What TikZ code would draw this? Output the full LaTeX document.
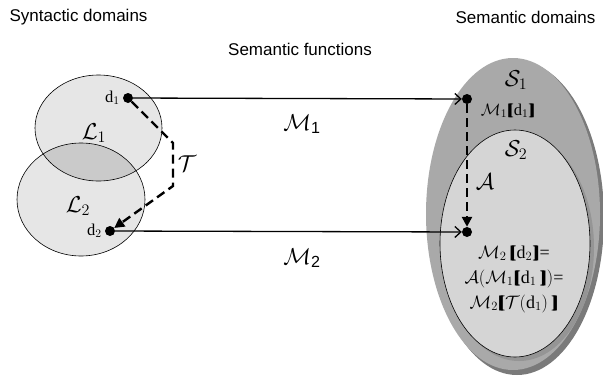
\RequirePackage{fix-cm}
\documentclass[tikz,border=0pt]{standalone}
\usepackage{amsmath,amssymb}
\usepackage{fontspec}
\setmainfont{Liberation Serif}
\setsansfont{Liberation Sans}
\usetikzlibrary{positioning,calc,arrows.meta}
\definecolor{synfill}{HTML}{E6E6E6}
\definecolor{synover}{HTML}{CACACA}
\definecolor{semouter}{HTML}{A9A9A9}
\definecolor{seminner}{HTML}{D5D5D5}
\definecolor{semshadow}{HTML}{7A7A7A}
\newcommand{\dsub}[1]{\text{d}_{#1}}
\newcommand{\lbr}{\mathopen{\text{\bfseries[\kern-0.26em[}}}
\newcommand{\rbr}{\mathclose{\text{\bfseries]\kern-0.26em]}}}
\newcommand{\sembr}[1]{\lbr #1\rbr}
\newcommand{\sfone}{\text{\sffamily 1}}
\newcommand{\sftwo}{\text{\sffamily 2}}

\tikzset{
  dot/.style={circle,fill=black,inner sep=0pt,minimum size=10pt},
  maparrow/.style={line width=1.3pt,-{Straight Barb[length=6pt,width=11pt]}},
  transarrow/.style={line width=2.4pt,dash pattern=on 9pt off 5pt,
    -{Triangle[length=10pt,width=10pt]}},
  headlbl/.style={font=\sffamily\fontsize{17}{20}\selectfont},
  biglbl/.style={font=\fontsize{23}{26}\selectfont,inner sep=0pt},
  smalllbl/.style={font=\fontsize{16.5}{19}\selectfont,inner sep=0pt},
}

\begin{document}
\begin{tikzpicture}[x=1pt,y=-1pt]
  \useasboundingbox (0,0) rectangle (603,381);

  % --- Dominios semánticos ---
  \fill[semshadow] (517,218) ellipse (87 and 157);
  \fill[semouter] (513,214) ellipse (87 and 156);
  \fill[semshadow!80] (519,247.5) ellipse (75 and 113.5);
  \filldraw[fill=seminner,draw=black,line width=0.6pt] (515,243.5) ellipse (75 and 113.5);

  % --- Dominios sintácticos ---
  \fill[synfill] (98.5,128) ellipse (63.5 and 53);
  \fill[synfill] (81,199.5) ellipse (64 and 56.5);
  \begin{scope}
    \clip (98.5,128) ellipse (63.5 and 53);
    \fill[synover] (81,199.5) ellipse (64 and 56.5);
  \end{scope}
  \draw[line width=0.6pt] (98.5,128) ellipse (63.5 and 53);
  \draw[line width=0.6pt] (81,199.5) ellipse (64 and 56.5);

  % --- Títulos ---
  \node[headlbl,anchor=west] (syntitle) at (6,17) {Syntactic domains};
  \node[headlbl,anchor=east] (semtitle) at (599,17) {Semantic domains};
  \node[headlbl] (funtitle) at (300,49) {Semantic functions};

  % --- Puntos ---
  \node[dot] (d1) at (128,98) {};
  \node[dot] (d2) at (110,231) {};
  \node[dot] (s1) at (467,99) {};
  \node[dot] (s2) at (467,232) {};

  \coordinate (t1) at (173,143);
  \coordinate (t2) at (173,186);

  % --- Funciones semánticas ---
  \draw[maparrow] (d1) -- (s1);
  \draw[maparrow] (d2) -- (s2);
  \draw[transarrow] (d1) -- (t1) -- (t2) -- (d2);
  \draw[transarrow] (s1) -- (s2);

  % --- Etiquetas ---
  \node[smalllbl,left=3pt of d1] (d1lbl) {$\dsub{1}$};
  \node[smalllbl,left=3pt of d2] (d2lbl) {$\dsub{2}$};
  \node[biglbl] (l1lbl) at (94,133) {$\mathcal{L}_1$};
  \node[biglbl] (l2lbl) at (78,206) {$\mathcal{L}_2$};
  \node[biglbl] (tlbl) at (187,164) {$\mathcal{T}$};
  \node[biglbl] (m1lbl) at (302,124) {$\mathcal{M}_{\sfone}$};
  \node[biglbl] (m2lbl) at (302,258) {$\mathcal{M}_{\sftwo}$};
  \node[biglbl] (s1lbl) at (516,80) {$\mathcal{S}_1$};
  \node[biglbl] (s2lbl) at (516,150) {$\mathcal{S}_2$};
  \node[biglbl] (a1lbl) at (485,182) {$\mathcal{A}$};
  \node[smalllbl] (m1sem) at (508,111) {$\mathcal{M}_1\sembr{\dsub{1}}$};
  \node[font=\fontsize{18}{20}\selectfont,inner sep=0pt,align=center] (eqlbl) at (514,279)
    {$\mathcal{M}_2\,\sembr{\dsub{2}}$=\\[5pt]
     $\mathcal{A}(\mathcal{M}_1\sembr{\dsub{1}\,})$=\\[5pt]
     $\mathcal{M}_2\sembr{\mathcal{T}(\dsub{1})\,}$};
\end{tikzpicture}
\end{document}
